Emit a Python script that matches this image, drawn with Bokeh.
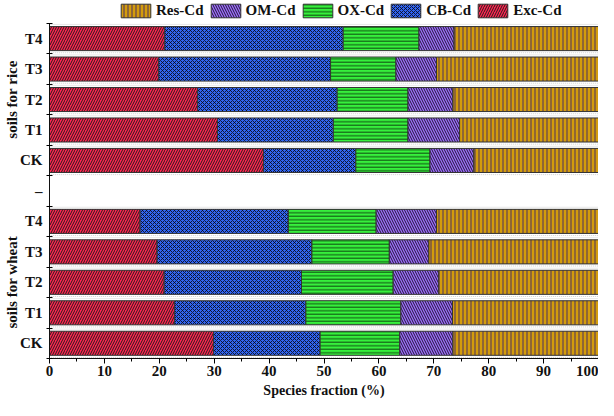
import numpy as np
from bokeh.plotting import figure
from bokeh.models import (ColumnDataSource, FixedTicker, Legend, LegendItem, LinearAxis)
from bokeh.embed import file_html
from bokeh.resources import INLINE

# rows from bottom to top (wheat CK ... wheat T4, [blank], rice CK ... rice T4)
row_labels = ["CK", "T1", "T2", "T3", "T4", "CK", "T1", "T2", "T3", "T4"]
row_y = [0.5, 1.5, 2.5, 3.5, 4.5, 6.5, 7.5, 8.5, 9.5, 10.5]
tick_label_positions = [0.5, 1.5, 2.5, 3.5, 4.5, 5.5, 6.5, 7.5, 8.5, 9.5, 10.5]
tick_label_texts = ["CK", "T1", "T2", "T3", "T4", "\u2013", "CK", "T1", "T2", "T3", "T4"]
group_positions = [2.5, 8.5]
group_texts = ["soils for wheat", "soils for rice"]

exc_cd = [29.9, 22.8, 20.9, 19.6, 16.5, 39.0, 30.6, 27.0, 19.9, 21.0]
cb_cd = [19.4, 23.9, 25.0, 28.2, 27.0, 16.8, 21.1, 25.4, 31.3, 32.5]
ox_cd = [14.5, 17.3, 16.7, 14.1, 16.0, 13.5, 13.6, 12.9, 11.9, 13.8]
om_cd = [9.7, 9.4, 8.3, 7.2, 11.0, 8.0, 9.4, 8.2, 7.4, 6.4]
res_cd = [26.5, 26.6, 29.1, 30.9, 29.5, 22.7, 25.3, 26.5, 29.5, 26.3]

x_ticks = [0, 10, 20, 30, 40, 50, 60, 70, 80, 90, 100]

series = [
    ("Exc-Cd", exc_cd, "#ff2650", "right_diagonal_line", 5, "#1a1a1a", 0.95, 1.0),
    ("CB-Cd", cb_cd, "#3064f0", "diagonal_cross", 4, "#0a0a1a", 0.85, 1.0),
    ("OX-Cd", ox_cd, "#36f03c", "horizontal_line", 3.5, "#0f4a10", 1.0, 1.0),
    ("OM-Cd", om_cd, "#9d70f8", "left_diagonal_line", 5, "#1a1030", 0.95, 1.0),
    ("Res-Cd", res_cd, "#d39c0c", "vertical_line", 4, "#4a3060", 1.0, 1.0),
]

FONT = "Liberation Serif"

# the frame reaches the top of the canvas so the legend (drawn inside it) is not clipped
p = figure(width=598, height=400, x_range=(0, 100), y_range=(0, 11.75),
           output_backend="svg", toolbar_location=None,
           min_border_left=49, min_border_right=0, min_border_top=0, min_border_bottom=40)
p.outline_line_color = None
p.xgrid.visible = False
p.ygrid.visible = False

# faint dotted frames around the bars
ghost = ColumnDataSource(dict(y=row_y, left=[0] * len(row_y), right=[100] * len(row_y)))
p.hbar(y="y", left="left", right="right", height=0.93, source=ghost,
       fill_color=None, line_color="#cfcfcf", line_width=1, line_dash="1 1")

left = np.zeros(len(row_y))
renderers = {}
for name, vals, color, hatch, scale, hcol, halpha, hweight in series:
    vals = np.array(vals, dtype=float)
    src = ColumnDataSource(dict(y=row_y, left=left.copy(), right=left + vals))
    r = p.hbar(y="y", left="left", right="right", height=0.79, source=src,
               fill_color=color, line_color="#333333", line_width=1,
               hatch_pattern=hatch, hatch_scale=scale, hatch_color=hcol,
               hatch_weight=hweight, hatch_alpha=halpha)
    renderers[name] = r
    left = left + vals

# right frame line (only over the bar area)
p.segment(x0=[100], y0=[0], x1=[100], y1=[11], line_color="#222222", line_width=1)

# x axis
p.xaxis.ticker = FixedTicker(ticks=x_ticks, minor_ticks=list(range(5, 100, 10)))
p.xaxis.major_tick_in = 0
p.xaxis.major_tick_out = 5
p.xaxis.minor_tick_in = 0
p.xaxis.minor_tick_out = 3
p.xaxis.major_label_text_font = FONT
p.xaxis.major_label_text_font_style = "bold"
p.xaxis.major_label_text_font_size = "15px"
p.xaxis.major_label_text_color = "#111111"
p.xaxis.major_label_standoff = 2
p.xaxis.axis_label = "Species fraction (%)"
p.xaxis.axis_label_text_font = FONT
p.xaxis.axis_label_text_font_style = "bold"
p.xaxis.axis_label_text_font_size = "14px"
p.xaxis.axis_label_text_color = "#111111"
p.xaxis.axis_label_standoff = 4
p.xaxis.axis_line_color = "#111111"

# y axis: labels centred in bands, ticks at band boundaries
p.yaxis.bounds = (0, 11)
p.yaxis.ticker = FixedTicker(ticks=tick_label_positions, minor_ticks=list(range(0, 12)))
p.yaxis.major_label_overrides = {pos: txt for pos, txt in zip(tick_label_positions, tick_label_texts)}
p.yaxis.major_tick_in = 0
p.yaxis.major_tick_out = 0
p.yaxis.minor_tick_in = 3
p.yaxis.minor_tick_out = 3
p.yaxis.major_label_standoff = 4
p.yaxis.major_label_text_font = FONT
p.yaxis.major_label_text_font_style = "bold"
p.yaxis.major_label_text_font_size = "15px"
p.yaxis.major_label_text_color = "#111111"
p.yaxis.axis_line_color = "#111111"

# group labels as an outer left axis
gaxis = LinearAxis(ticker=FixedTicker(ticks=group_positions, minor_ticks=[]),
                   major_label_overrides={pos: txt for pos, txt in zip(group_positions, group_texts)},
                   major_label_orientation="vertical",
                   major_tick_in=0, major_tick_out=0, minor_tick_in=0, minor_tick_out=0,
                   axis_line_color=None, major_label_standoff=-4,
                   major_label_text_font=FONT, major_label_text_font_style="bold",
                   major_label_text_font_size="15px", major_label_text_color="#111111")
p.add_layout(gaxis, "left")

legend_order = ["Res-Cd", "OM-Cd", "OX-Cd", "CB-Cd", "Exc-Cd"]
legend = Legend(items=[LegendItem(label=n, renderers=[renderers[n]]) for n in legend_order],
                orientation="horizontal", location=(68, 339),
                glyph_width=37, glyph_height=17, label_standoff=2, spacing=3,
                padding=0, margin=0, border_line_color=None, background_fill_alpha=0,
                label_text_font=FONT, label_text_font_style="bold",
                label_text_font_size="15px", label_text_color="#111111",
                label_height=17)
p.add_layout(legend, "center")

open("out.html", "w").write(file_html(p, INLINE))
